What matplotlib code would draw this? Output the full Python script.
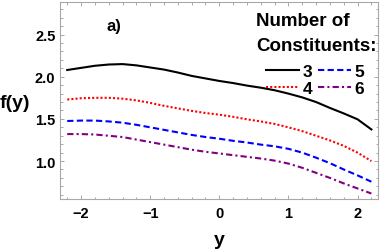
import matplotlib
matplotlib.use("Agg")
import matplotlib.pyplot as plt
from matplotlib.ticker import MultipleLocator

# curve samples, x = -2.2 .. 2.2 step 0.2
y_vals = [-2.2, -2.0, -1.8, -1.6, -1.4, -1.2, -1.0, -0.8, -0.6, -0.4, -0.2, 0.0,
          0.2, 0.4, 0.6, 0.8, 1.0, 1.2, 1.4, 1.6, 1.8, 2.0, 2.2]

f3 = [2.08, 2.105, 2.13, 2.145, 2.15, 2.135, 2.11, 2.085, 2.05, 2.01, 1.98, 1.95,
      1.925, 1.895, 1.87, 1.84, 1.80, 1.755, 1.70, 1.63, 1.565, 1.495, 1.375]
f4 = [1.73, 1.745, 1.75, 1.75, 1.74, 1.72, 1.69, 1.655, 1.625, 1.595, 1.57, 1.55,
      1.525, 1.495, 1.47, 1.44, 1.40, 1.355, 1.30, 1.245, 1.18, 1.10, 1.00]
f5 = [1.475, 1.48, 1.48, 1.47, 1.455, 1.43, 1.40, 1.37, 1.34, 1.31, 1.285, 1.265,
      1.24, 1.22, 1.195, 1.175, 1.145, 1.10, 1.04, 0.975, 0.90, 0.83, 0.755]
f6 = [1.32, 1.32, 1.315, 1.30, 1.285, 1.255, 1.225, 1.195, 1.165, 1.135, 1.11, 1.09,
      1.07, 1.05, 1.03, 1.005, 0.97, 0.92, 0.86, 0.80, 0.735, 0.675, 0.615]

labels = ["3", "4", "5", "6"]

plt.rcParams['font.family'] = ['Liberation Sans', 'DejaVu Sans']
plt.rcParams['font.weight'] = 'bold'

W, H = 382, 251
fig = plt.figure(figsize=(W / 100, H / 100), dpi=100)
ax = fig.add_axes([60.3 / W, (H - 200) / H, 318 / W, 197.3 / H])

lw = 1.5
l3, = ax.plot(y_vals, f3, color='black', lw=lw)
l4, = ax.plot(y_vals, f4, color='#ff0000', lw=lw, linestyle=(0, (1, 1)))
l5, = ax.plot(y_vals, f5, color='#0000ff', lw=lw, linestyle=(0, (3, 1.6)))
l6, = ax.plot(y_vals, f6, color='#800080', lw=lw, linestyle=(0, (3, 1.5, 1, 1.5)))

ax.set_xlim(-2.3, 2.3)
ax.set_ylim(0.55, 2.89)
ax.xaxis.set_major_locator(MultipleLocator(1))
ax.xaxis.set_minor_locator(MultipleLocator(0.2))
ax.yaxis.set_major_locator(MultipleLocator(0.5))
ax.yaxis.set_minor_locator(MultipleLocator(0.1))

frame_col = '#a8a8a8'
for s in ax.spines.values():
    s.set_color(frame_col)
    s.set_linewidth(0.8)
ax.tick_params(which='both', direction='in', top=True, right=True, color=frame_col,
               labelsize=10.5, width=0.7)
ax.tick_params(which='major', length=3.2)
ax.tick_params(which='minor', length=1.8)
ax.tick_params(axis='x', pad=5)
ax.tick_params(axis='y', pad=3.5)

def fmt(v, pos):
    s = "%g" % v
    return s.replace('-', '\u2212')
ax.xaxis.set_major_formatter(plt.FuncFormatter(fmt))
ax.yaxis.set_major_formatter(plt.FuncFormatter(lambda v, p: "%.1f" % v))

fig.text(15 / W, 1 - 103 / H, "f(y)", fontsize=14, fontweight='bold', ha='center', va='center')
fig.text(219.5 / W, 1 - 241 / H, "y", fontsize=14, fontweight='bold', ha='center', va='center')
fig.text(114 / W, 1 - 26 / H, "a)", fontsize=12, fontweight='bold', ha='center', va='center')

fig.text(256 / W, 1 - 22 / H, "Number of", fontsize=13.5, fontweight='bold', ha='left', va='center')
fig.text(256 / W, 1 - 46.7 / H, "Constituents:", fontsize=13.5, fontweight='bold', ha='left', va='center')

leg = ax.legend([l3, l4, l5, l6], labels, ncol=2, loc='upper left',
                bbox_to_anchor=(266 / W, 1 - 65 / H), bbox_transform=fig.transFigure,
                frameon=False, borderpad=0, borderaxespad=0, handlelength=1.9,
                handletextpad=0.22, columnspacing=0.3, labelspacing=0.1,
                prop={'size': 12.5, 'weight': 'bold'})

fig.savefig("out.png", dpi=100)
